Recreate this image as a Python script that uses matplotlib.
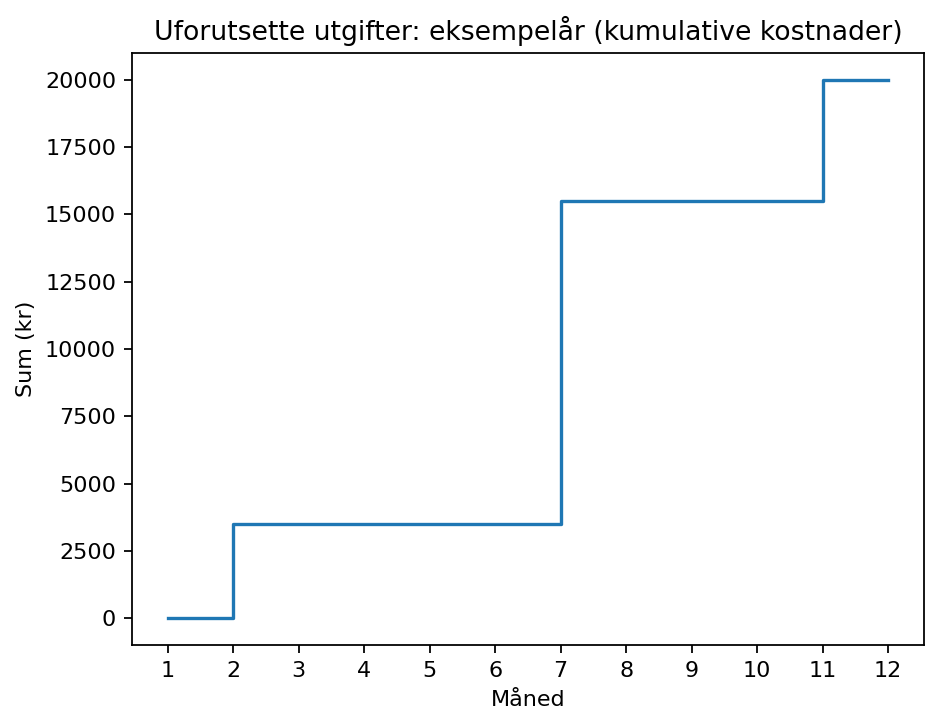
import matplotlib
matplotlib.use("Agg")
import matplotlib.pyplot as plt

months = list(range(1, 13))
cumulative = [0, 3500, 3500, 3500, 3500, 3500, 15500, 15500, 15500, 15500, 20000, 20000]
title = "Uforutsette utgifter: eksempelår (kumulative kostnader)"
xlabel = "Måned"
ylabel = "Sum (kr)"

DPI = 160
fig = plt.figure(figsize=(941/DPI, 725/DPI), dpi=DPI)
ax = fig.add_axes([0.140, 0.110, 0.842, 0.817])
ax.step(months, cumulative, where="post", color="#1f77b4")
ax.set_xticks(months)
ax.set_title(title)
ax.set_xlabel(xlabel)
ax.set_ylabel(ylabel)
fig.savefig("out.png", dpi=DPI)
